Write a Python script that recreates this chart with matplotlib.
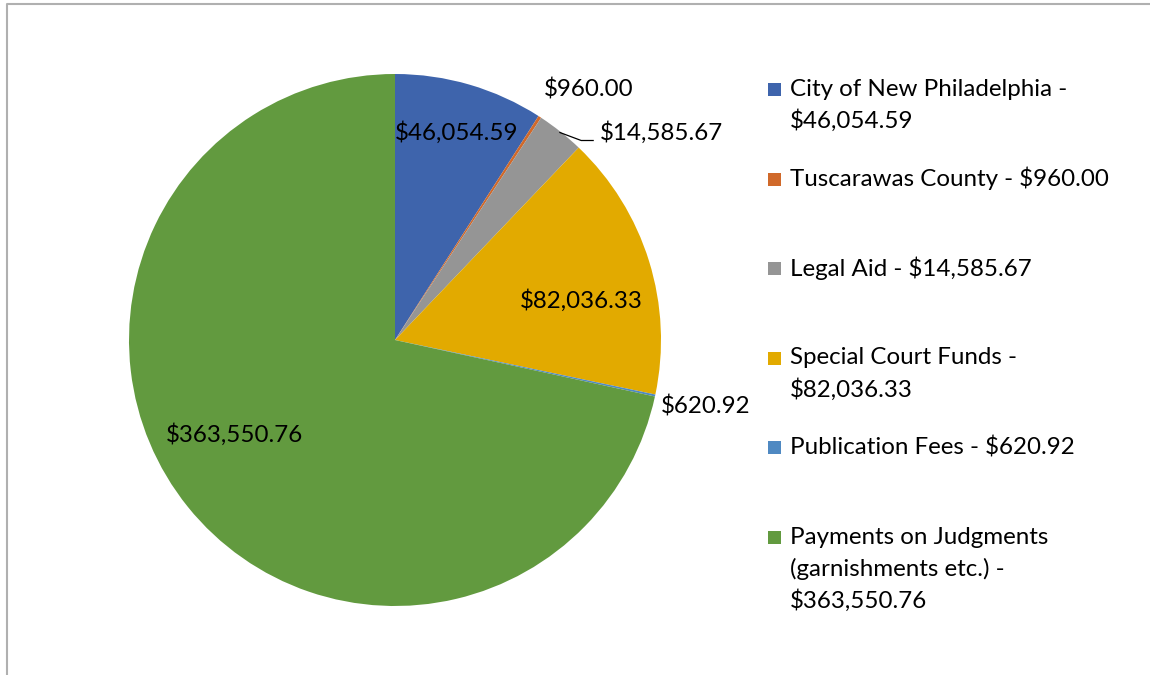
import matplotlib
matplotlib.use("Agg")
import matplotlib.pyplot as plt
from matplotlib.patches import Rectangle
from matplotlib.lines import Line2D

labels = ["City of New Philadelphia", "Tuscarawas County", "Legal Aid",
          "Special Court Funds", "Publication Fees",
          "Payments on Judgments (garnishments etc.)"]
values = [46054.59, 960.00, 14585.67, 82036.33, 620.92, 363550.76]
colors = ["#3e64ac", "#d0692a", "#959595", "#e2aa00", "#4f89c2", "#629a3f"]

# legend text, wrapped the way the reference shows it
legend_lines = [["City of New Philadelphia -", "$46,054.59"],
                ["Tuscarawas County - $960.00"],
                ["Legal Aid - $14,585.67"],
                ["Special Court Funds -", "$82,036.33"],
                ["Publication Fees - $620.92"],
                ["Payments on Judgments", "(garnishments etc.) -", "$363,550.76"]]

# data label anchors (in units of pie radius, relative to centre)
label_pos = [(0.23, 0.78, "center"), (0.73, 0.94, "center"), (0.77, 0.78, "left"),
             (0.70, 0.15, "center"), (1.00, -0.25, "left"), (-0.605, -0.355, "center")]

W, H = 1150, 675
plt.rcParams["font.family"] = ["Lato", "DejaVu Sans"]
FS = 17.4

fig = plt.figure(figsize=(W / 100, H / 100), dpi=100)

def px(x, y):
    return x / W, 1 - y / H

cx, cy, R = 395, 340, 266
ax = fig.add_axes([(cx - R) / W, (H - cy - R) / H, 2 * R / W, 2 * R / H])
ax.pie(values, colors=colors, startangle=90, counterclock=False, radius=1,
       wedgeprops=dict(linewidth=0))
ax.set_xlim(-1, 1)
ax.set_ylim(-1, 1)
ax.set_aspect("auto")
ax.axis("off")

for v, (lx, ly, ha) in zip(values, label_pos):
    ax.text(lx, ly, f"${v:,.2f}", ha=ha, va="center", fontsize=FS, color="black",
            clip_on=False)

# leader line for Legal Aid label
ax.add_line(Line2D([0.62, 0.70, 0.745], [0.78, 0.75, 0.75], color="black", lw=0.9,
                   clip_on=False))

# legend
for i, (c, lines) in enumerate(zip(colors, legend_lines)):
    y0 = 89 + i * 89.6
    x, y = px(768, y0 + 7)
    fig.add_artist(Rectangle((x, y), 13 / W, 13 / H, transform=fig.transFigure,
                             facecolor=c, edgecolor="none"))
    for j, t in enumerate(lines):
        tx, ty = px(790, y0 + j * 32)
        fig.text(tx, ty, t, fontsize=FS, va="center", ha="left", color="black")

# chart area border (left and top edges visible)
fig.add_artist(Line2D([6.5 / W, 6.5 / W, 1.0], [0, 1 - 3.5 / H, 1 - 3.5 / H],
                      transform=fig.transFigure, color="#b0b0b0", lw=1.5))

fig.savefig("out.png", dpi=100)
